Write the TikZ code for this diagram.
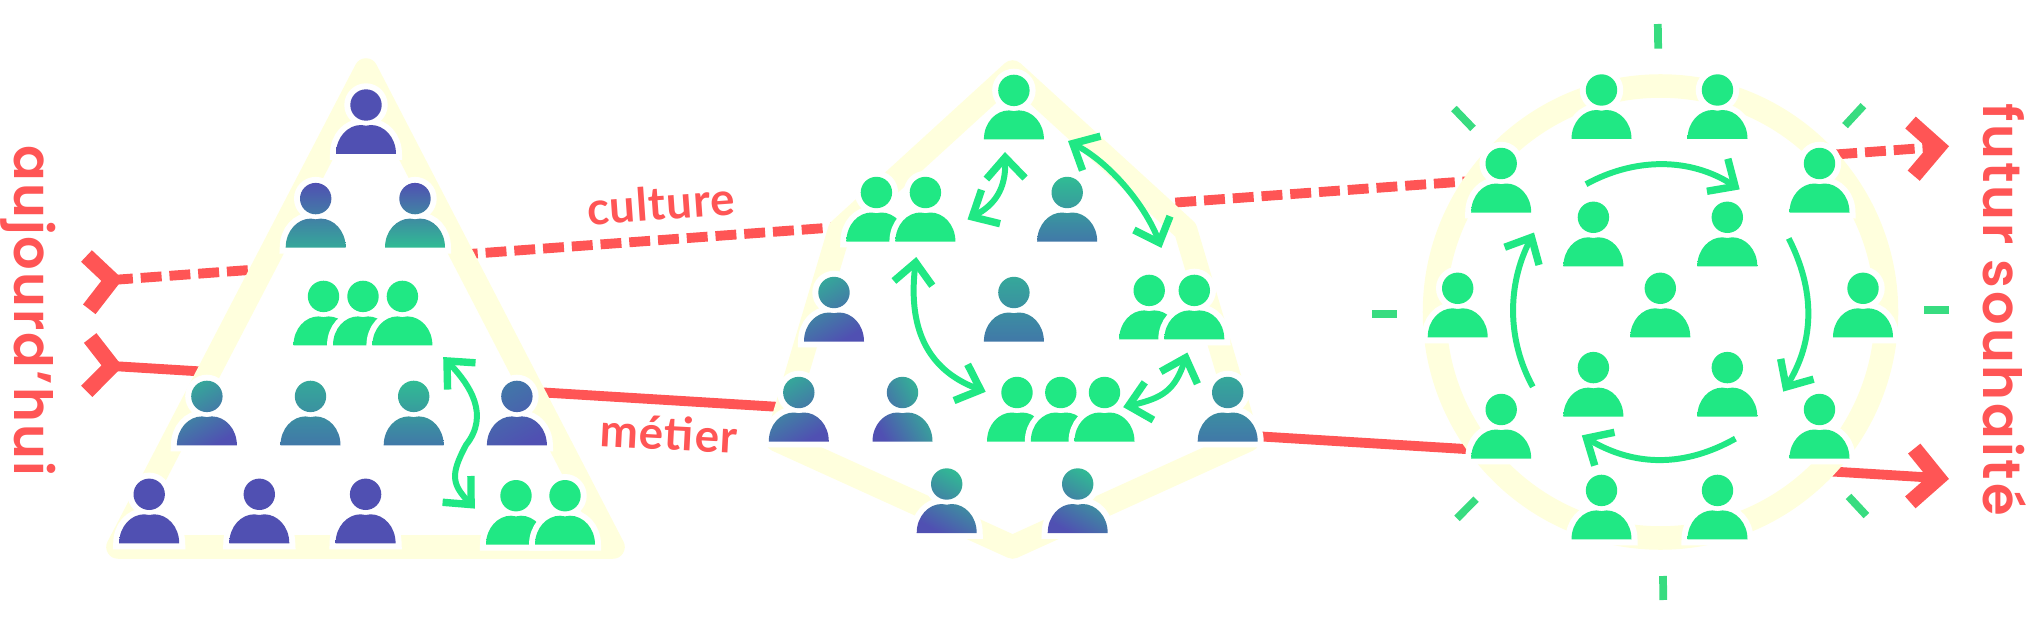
\documentclass[tikz,border=0pt]{standalone}
\usepackage{fontspec}
\usetikzlibrary{arrows.meta}
\newfontfamily\sidefont{Poppins SemiBold}
\newfontfamily\tagfont[LetterSpace=2]{Lato}
\definecolor{indigo}{HTML}{5050B2}
\definecolor{steel}{HTML}{4178A8}
\definecolor{teal}{HTML}{35A89A}
\definecolor{sea}{HTML}{30BC94}
\definecolor{mint}{HTML}{20E884}
\definecolor{tick}{HTML}{38DC80}
\definecolor{pale}{HTML}{FFFFDD}
\definecolor{coral}{HTML}{FF5555}
\tikzset{
  outline/.style={draw=pale, fill=white, line width=13.4pt, line join=round},
  redline/.style={coral, line width=5.6pt},
  reddash/.style={redline, dash pattern=on 11.9pt off 4.5pt},
  chevron/.style={coral, line width=9pt, line join=miter},
  swap/.style={mint, line width=3.4pt, line join=round,
    arrows={Straight Barb[length=12pt,width=22pt,line width=4.2pt]-Straight Barb[length=12pt,width=22pt,line width=4.2pt]}},
  turn/.style={mint, line width=3.4pt,
    -{Straight Barb[length=12pt,width=22pt,line width=4.2pt]}},
  ray/.style={tick, line width=4.4pt},
  sidelabel/.style={coral, font=\sidefont\fontsize{30}{36}\selectfont, rotate=-90, anchor=base west, inner sep=0pt},
  taglabel/.style={coral, font=\tagfont\bfseries\fontsize{26}{30}\selectfont, anchor=base, inner sep=0pt}
}
% one person: head at #3, shading from #4 to #5
\newcommand{\persona}[5][0]{
  \coordinate (#2) at (#3);
  \def\personpath{
    (0,0) circle [radius=15.7]
    (-30,49) -- (30,49) .. controls (30,32) and (18,20) .. (5,20)
    .. controls (3,20) and (2,20.7) .. (0,20.7) .. controls (-2,20.7) and (-3,20) .. (-5,20)
    .. controls (-18,20) and (-30,32) .. (-30,49) -- cycle}
  \begin{scope}[shift={(#2)}]
    \draw[white, line width=6.8pt, line join=miter] \personpath;
    \shade[top color=#4, bottom color=#5, shading angle=#1] \personpath;
  \end{scope}
}
\begin{document}
\begin{tikzpicture}[x=0.02cm, y=-0.02cm]
  \useasboundingbox (0,0) rectangle (2029,625);
  \coordinate (cultureleft) at (112,280);
  \coordinate (cultureright) at (1938,147);
  \coordinate (metierleft) at (112,366);
  \coordinate (metierright) at (1938,478);
  \draw[reddash] (cultureleft) -- (cultureright);
  \draw[redline] (metierleft) -- (metierright);
  \draw[chevron] (86.5,256) -- (cultureleft) -- (89.3,309.3);
  \draw[chevron] (90.2,338) -- (metierleft) -- (86.7,391.4);
  \draw[chevron] (1910.5,122.5) -- (cultureright) -- (1913.7,175.7);
  \draw[chevron] (1914.2,448.6) -- (metierright) -- (1910.3,502.4);
  % the three shapes
  \draw[outline] (366,70) -- (613,547) -- (118,547) -- cycle;
  \draw[outline] (1012.6,72) -- (1185.6,230) -- (1248,440) -- (1012.6,547) -- (777,440) -- (839.6,230) -- cycle;
  \draw[outline] (1660.5,312) circle [radius=226];
  % pyramid
  \persona{ta}{366,105}{indigo}{indigo}
  \persona{tb}{315.7,198.6}{indigo}{teal}
  \persona{tc}{415,198.6}{indigo}{sea}
  \persona{td}{323.5,296.4}{mint}{mint}
  \persona{te}{363,296.4}{mint}{mint}
  \persona{tf}{402.4,296.4}{mint}{mint}
  \persona[30]{tg}{206.9,396.4}{teal}{indigo}
  \persona{th}{310.5,396.4}{teal}{steel}
  \persona{ti}{413.7,396.4}{sea}{steel}
  \persona[30]{tj}{516.9,396.4}{steel}{indigo}
  \persona{tk}{149.2,494.3}{indigo}{indigo}
  \persona{tl}{259.3,494.3}{indigo}{indigo}
  \persona{tm}{365.6,494.3}{indigo}{indigo}
  \persona{tn}{516,495.7}{mint}{mint}
  \persona{to}{565,495.7}{mint}{mint}
  % pentagon
  \persona{pa}{1013.9,90.4}{mint}{mint}
  \persona{pb}{876.4,192.5}{mint}{mint}
  \persona{pc}{925.4,192.5}{mint}{mint}
  \persona{pd}{1067.2,192.5}{sea}{steel}
  \persona[30]{pe}{834,292.5}{teal}{indigo}
  \persona{pf}{1013.9,292.5}{teal}{steel}
  \persona{pg}{1149.2,290.4}{mint}{mint}
  \persona{ph}{1194.3,290.4}{mint}{mint}
  \persona[30]{pi}{798.8,392.5}{teal}{indigo}
  \persona[-60]{pj}{902.5,392.5}{sea}{indigo}
  \persona{pk}{1017,392.5}{mint}{mint}
  \persona{pl}{1060.8,392.5}{mint}{mint}
  \persona{pm}{1104.5,392.5}{mint}{mint}
  \persona{pn}{1227.7,392.5}{teal}{steel}
  \persona[-30]{po}{946.7,484}{sea}{indigo}
  \persona[-30]{pp}{1077.7,484}{sea}{indigo}
  % circle
  \foreach \nm/\pos in {ca/{1601.5,90}, cb/{1717.5,90}, cc/{1501.2,163.5}, cd/{1819.5,163.5},
      ce/{1593.4,217.3}, cf/{1727.3,217.3}, cg/{1457.7,288.3}, ch/{1660.3,288.3}, ci/{1863,288.3},
      cj/{1593.4,367.6}, ck/{1727.3,367.6}, cl/{1501.2,409.5}, cm/{1819.5,409.5},
      cn/{1601.5,490.4}, co/{1717.5,490.4}}
    {\persona{\nm}{\pos}{mint}{mint}}
  % green exchanges
  \draw[swap] (443.2,357) .. controls (470,385) and (490,415) .. (466,445)
    .. controls (450,475) and (452,484) .. (474.8,508.6);
  \draw[swap] (1005,152) .. controls (1006,190) and (994,205) .. (967.5,219.5);
  \draw[swap] (1068,141) .. controls (1110,163) and (1145,205) .. (1161.4,247.9);
  \draw[swap] (916.3,257) .. controls (908,325) and (925,369) .. (985.7,391.8);
  \draw[swap] (1187.4,352.5) .. controls (1175,390) and (1163,398) .. (1123.2,407.1);
  \draw[turn] (1586,184.2) .. controls (1635,157.4) and (1690,157.4) .. (1739.7,189.4);
  \draw[turn] (1788.7,238.4) .. controls (1815,290) and (1815,340) .. (1783.2,391.6);
  \draw[turn] (1735.4,438.6) .. controls (1685,467) and (1635,467) .. (1581.8,435.4);
  \draw[turn] (1532.8,386.8) .. controls (1507,340) and (1507,285) .. (1534,232.5);
  % rays round the circle
  \foreach \ax/\ay/\bx/\by in {1657.8/24/1658.2/48.6, 1863.4/105.7/1845/125.6, 1924/310.2/1948.7/310.2,
      1848.5/496.4/1866.4/515.6, 1663/576/1663.3/600, 1476/499.2/1457/518.3,
      1372/314.2/1397/314.2, 1453.9/108.5/1473/128.4}
    \draw[ray] (\ax,\ay) -- (\bx,\by);
  % labels
  \node[sidelabel] (today) at (14.3,145) {\addfontfeature{LetterSpace=4}aujourd’hui};
  \node[sidelabel] (future) at (1983,103) {\addfontfeature{LetterSpace=5.5}futur souhaité};
  \node[taglabel, rotate=4] (culture) at (662,220) {culture};
  \node[taglabel, rotate=-3] (metier) at (668,450) {métier};
\end{tikzpicture}
\end{document}
